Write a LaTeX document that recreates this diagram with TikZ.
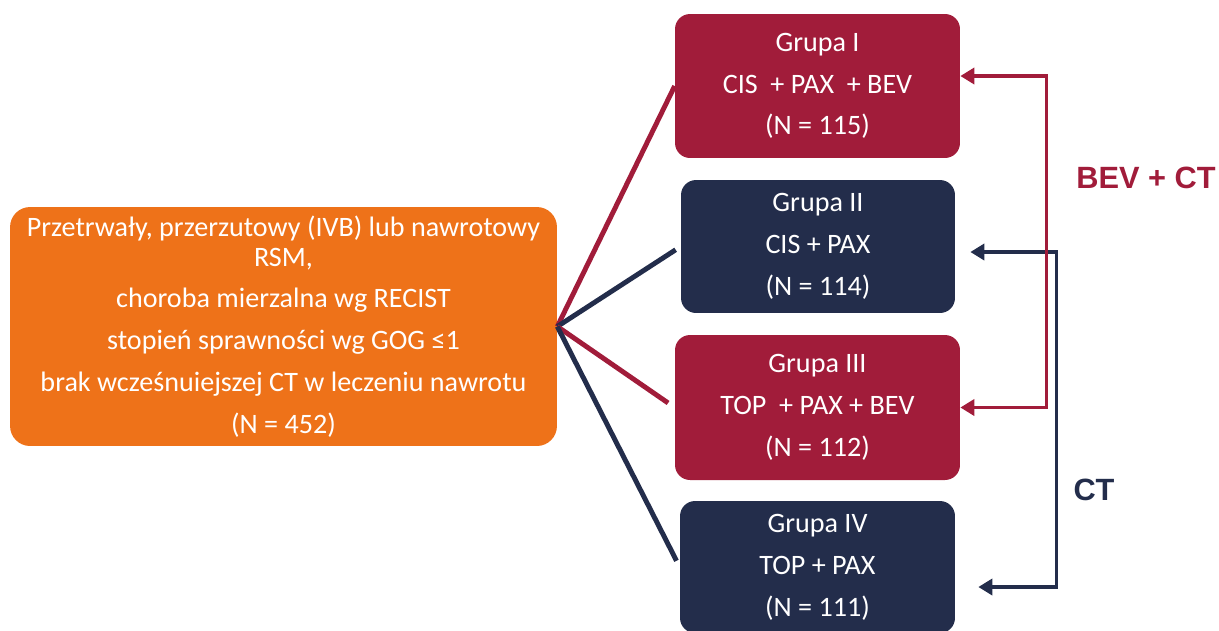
\documentclass[tikz,border=0pt]{standalone}
\usepackage{fontspec}
\setmainfont{Carlito}
\newfontfamily\armfont{Liberation Sans}
\usetikzlibrary{arrows.meta}

\definecolor{bevred}{HTML}{A11C3A}
\definecolor{ctnavy}{HTML}{232D4B}
\definecolor{rsmorange}{HTML}{EE7219}

\tikzset{
	grp/.style={rectangle, rounded corners=0.3cm, align=center, text=white, inner sep=0pt,
		font=\fontsize{16}{23.8}\selectfont},
	fan/.style={line width=2.8pt},
	arm/.style={line width=2pt, {Triangle[length=0.28cm, width=0.32cm]}-{Triangle[length=0.28cm, width=0.32cm]}},
	armlabel/.style={font=\armfont\bfseries\fontsize{17.5}{20}\selectfont}
}

\begin{document}
\begin{tikzpicture}[x=0.02cm, y=-0.02cm]
	\useasboundingbox (0,0) rectangle (1219,630);
	\clip (0,0) rectangle (1219,630);

	% eligible patients
	\node[grp, fill=rsmorange, rounded corners=0.4cm, minimum width=10.94cm, minimum height=4.78cm] (rsm) at (283.5,326.5)
		{Przetrwały, przerzutowy (IVB) lub nawrotowy\\[-6.8pt]
		 RSM,\\
		 choroba mierzalna wg RECIST\\
		 stopień sprawności wg GOG ≤1\\
		 brak wcześnuiejszej CT w leczeniu nawrotu\\
		 (N = 452)};

	% study arms
	\node[grp, fill=bevred, minimum width=5.7cm, minimum height=2.88cm] (g1) at (817.5,86)
		{Grupa I\\ CIS~ + PAX~ + BEV\\ (N = 115)};
	\node[grp, fill=ctnavy, minimum width=5.48cm, minimum height=2.66cm] (g2) at (818,246.5)
		{Grupa II\\ CIS + PAX\\ (N = 114)};
	\node[grp, fill=bevred, minimum width=5.7cm, minimum height=2.9cm] (g3) at (817.5,407.5)
		{Grupa III\\ TOP~ + PAX + BEV\\ (N = 112)};
	\node[grp, fill=ctnavy, minimum width=5.5cm, minimum height=2.64cm] (g4) at (817.5,567)
		{Grupa IV\\ TOP + PAX\\ (N = 111)};

	\draw[fan, bevred] (rsm.east) to (g1.west);
	\draw[fan, ctnavy, shorten >=0.12cm] (rsm.east) to (g2.west);
	\draw[fan, bevred, shorten >=0.16cm] (rsm.east) to (g3.west);
	\draw[fan, ctnavy, shorten >=0.14cm] (rsm.east) to (g4.west);

	% comparisons
	\draw[arm, ctnavy] ([shift={(0.3cm,-0.11cm)}]g2.east) -- ++(86,0) |- ([shift={(0.46cm,-0.4cm)}]g4.east);
	\draw[arm, bevred] ([yshift=0.2cm]g1.east) -- ++(86,0) |- (g3.east);

	\node[armlabel, text=bevred] (bevct) at (1146,178) {BEV + CT};
	\node[armlabel, text=ctnavy] (ct) at (1094,490) {CT};
\end{tikzpicture}
\end{document}
